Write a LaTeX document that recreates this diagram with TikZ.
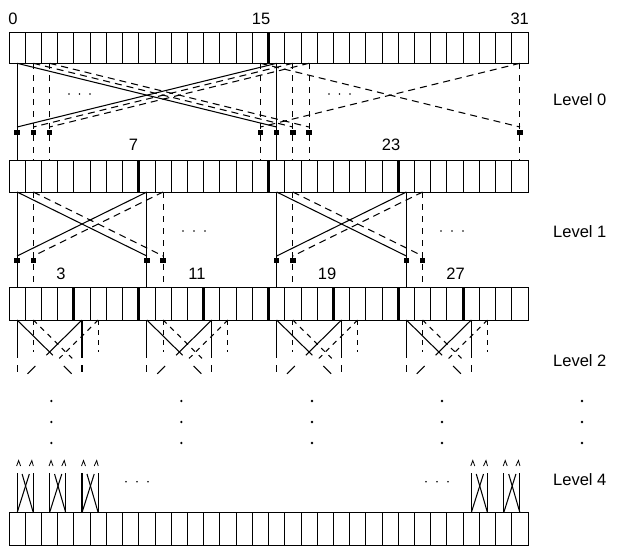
\documentclass[tikz,border=0pt]{standalone}
\usepackage{fontspec}
\setmainfont{Liberation Sans}
\begin{document}
\begin{tikzpicture}[x=1pt,y=-1pt,
  declare function={ex(\i)=9+(\i+0.5)*16.22;},
  cellline/.style={line width=0.9pt},
  barline/.style={line width=2.8pt},
  sline/.style={line width=1.05pt},
  dline/.style={line width=1.05pt,dash pattern=on 7pt off 5pt},
  dvline/.style={line width=1.05pt,dash pattern=on 6pt off 6pt},
  dshort/.style={line width=1.05pt,dash pattern=on 5pt off 5pt},
  mk/.style={fill=black},
  num/.style={font=\fontsize{16.5}{18}\selectfont, inner sep=0pt},
  lvl/.style={font=\fontsize{16.5}{18}\selectfont, inner sep=0pt, anchor=west},
  dot/.style={fill=black},
]
\useasboundingbox (0,0) rectangle (617,546);

% ---------- arrays ----------
\foreach \yt/\yb in {32.3/63.3, 160/192, 287.3/320, 512.7/545} {
  \draw[cellline] (9,\yt) rectangle (528,\yb);
  \foreach \k in {1,...,31} \draw[cellline] ({9+\k*16.22},\yt) -- ({9+\k*16.22},\yb);
}
\draw[barline] ({9+16*16.22},32.3) -- ({9+16*16.22},63.3);
\foreach \k in {8,16,24} \draw[barline] ({9+\k*16.22},160) -- ({9+\k*16.22},192);
\foreach \k in {4,8,...,28} \draw[barline] ({9+\k*16.22},287.3) -- ({9+\k*16.22},320);

% ---------- labels ----------
\node[num] (n0)  at (13,18.5) {0};
\node[num] (n15) at (261,18.5) {15};
\node[num] (n31) at (519.7,18.5) {31};
\node[num] (n7)  at (133.5,145) {7};
\node[num] (n23) at (391,145) {23};
\node[num] (n3)  at (61,274) {3};
\node[num] (n11) at (197,274) {11};
\node[num] (n19) at (327,274) {19};
\node[num] (n27) at (455.5,274) {27};
\node[lvl] (l0) at (553,100) {Level 0};
\node[lvl] (l1) at (553,232) {Level 1};
\node[lvl] (l2) at (553,361) {Level 2};
\node[lvl] (l4) at (553,480) {Level 4};

% ---------- level 0 ----------
\draw[sline] ({ex(0)},63.3) -- ({ex(0)},160);
\draw[sline] ({ex(16)},63.3) -- ({ex(16)},160);
\draw[sline] ({ex(0)},63.3) -- ({ex(16)},127);
\draw[sline] ({ex(16)},63.3) -- ({ex(0)},127);
\foreach \a/\b in {1/17,2/18,15/31} {
  \draw[dvline] ({ex(\a)},63.3) -- ({ex(\a)},160);
  \draw[dvline] ({ex(\b)},63.3) -- ({ex(\b)},160);
  \draw[dline] ({ex(\a)},63.3) -- ({ex(\b)},127);
  \draw[dline] ({ex(\b)},63.3) -- ({ex(\a)},127);
}
\foreach \i in {0,1,2,15,16,17,18,31} \fill[mk] ({ex(\i)-2.7},130) rectangle ++(5.4,5);
\foreach \x in {69,79.5,90,329,339.5,350} \fill[dot] (\x,94) circle (0.9);

% ---------- level 1 ----------
\foreach \s in {0,16} {
  \pgfmathtruncatemacro{\sa}{\s+8}
  \pgfmathtruncatemacro{\sb}{\s+1}
  \pgfmathtruncatemacro{\sc}{\s+9}
  \draw[sline] ({ex(\s)},192) -- ({ex(\s)},287.3);
  \draw[sline] ({ex(\sa)},192) -- ({ex(\sa)},287.3);
  \draw[sline] ({ex(\s)},192) -- ({ex(\sa)},256);
  \draw[sline] ({ex(\sa)},192) -- ({ex(\s)},256);
  \draw[dvline] ({ex(\sb)},192) -- ({ex(\sb)},287.3);
  \draw[dvline] ({ex(\sc)},192) -- ({ex(\sc)},287.3);
  \draw[dline] ({ex(\sb)},192) -- ({ex(\sc)},256);
  \draw[dline] ({ex(\sc)},192) -- ({ex(\sb)},256);
  \foreach \i in {\s,\sa,\sb,\sc} \fill[mk] ({ex(\i)-2.7},257.5) rectangle ++(5.4,5);
}
\foreach \x in {183,194,205,441,452,463} \fill[dot] (\x,231) circle (0.9);

% ---------- level 2 ----------
\foreach \s in {0,8,16,24} {
  \pgfmathtruncatemacro{\sa}{\s+4}
  \pgfmathtruncatemacro{\sb}{\s+1}
  \pgfmathtruncatemacro{\sc}{\s+5}
  \foreach \i in {\s,\sa} {
    \draw[sline] ({ex(\i)},320) -- ({ex(\i)},358);
    \draw[sline] ({ex(\i)},365) -- ({ex(\i)},372);
  }
  \draw[sline] ({ex(\s)},320) -- ({ex(\s)+35.7},355.2);
  \draw[sline] ({ex(\s)+46.7},366) -- ({ex(\s)+54.5},373.8);
  \draw[sline] ({ex(\sa)},320) -- ({ex(\sa)-35.7},355.2);
  \draw[sline] ({ex(\sa)-46.7},366) -- ({ex(\sa)-54.5},373.8);
  \foreach \i in {\sb,\sc} \draw[dshort] ({ex(\i)},320) -- ({ex(\i)},352);
  \draw[dshort] ({ex(\sb)},320) -- ({ex(\sb)+38.9},358.4);
  \draw[dshort] ({ex(\sc)},320) -- ({ex(\sc)-38.9},358.4);
}

% ---------- vertical dots ----------
\foreach \x in {51.4,181.4,312,442,582}
  \foreach \y in {401,422,443} \fill[dot] (\x,\y) circle (1.3);

% ---------- level 4 ----------
\foreach \a in {0,2,4,28,30} {
  \pgfmathsetmacro{\xa}{ex(\a)}
  \pgfmathsetmacro{\xb}{ex(\a+1)}
  \draw[sline] (\xa,473) -- (\xa,512.7);
  \draw[sline] (\xb,473) -- (\xb,512.7);
  \draw[sline] (\xa,512.7) -- ({\xb-4},474);
  \draw[sline] (\xb,512.7) -- ({\xa+5},474);
  \draw[line width=0.8pt] ({\xa-0.5},466) -- ({\xa+1.5},460.5) -- ({\xa+3.5},466);
  \draw[line width=0.8pt] ({\xb-4},466) -- ({\xb-1.5},460.5) -- ({\xb},466);
}
\foreach \x in {126,137,148,426,437,448} \fill[dot] (\x,481.7) circle (0.9);

\end{tikzpicture}
\end{document}
